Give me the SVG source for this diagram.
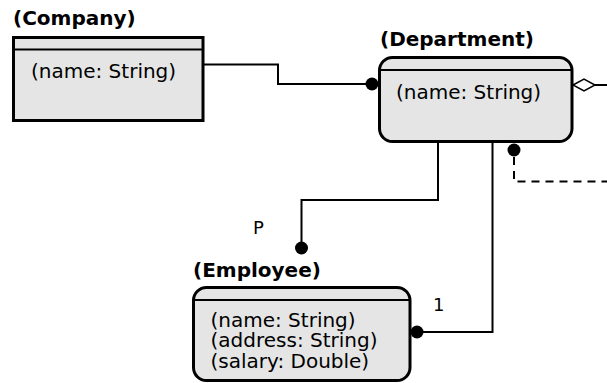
<svg xmlns="http://www.w3.org/2000/svg" width="607" height="383" viewBox="0 0 607 383">
  <style>
    .box { fill: #e5e5e5; stroke: #000; stroke-width: 3; }
    .sep { stroke: #000; stroke-width: 2; }
    .title { font-family: "DejaVu Sans", sans-serif; font-weight: bold; font-size: 20px; fill: #000; }
    .attr { font-family: "DejaVu Sans", sans-serif; font-size: 20px; fill: #000; }
    .lbl { font-family: "DejaVu Sans", sans-serif; font-size: 18px; fill: #000; }
    .wire { fill: none; stroke: #000; stroke-width: 2; }
    .dash { fill: none; stroke: #000; stroke-width: 2; stroke-dasharray: 8 6; }
    .dot { fill: #000; }
    .diamond { fill: #fff; stroke: #000; stroke-width: 1.5; }
  </style>

  <g id="connectors">
    <!-- Company to Department -->
    <path class="wire" d="M203,64.5 H278 V84 H370"/>
    <circle class="dot" cx="372" cy="84" r="6.5"/>
    <!-- aggregation leaving Department to the right -->
    <path class="wire" d="M595,85 H607"/>
    <polygon class="diamond" points="573,85 584,79 595,85 584,91"/>
    <!-- Department to Employee (P) -->
    <path class="wire" d="M438,143 V200 H301.5 V246"/>
    <circle class="dot" cx="301.5" cy="248" r="6.5"/>
    <!-- Department to Employee (1) -->
    <path class="wire" d="M492.5,143 V332 H419"/>
    <circle class="dot" cx="417" cy="332" r="6.5"/>
    <!-- dashed dependency -->
    <circle class="dot" cx="514" cy="150" r="6.5"/>
    <path class="dash" d="M514,157 V181.5 H607"/>
    <text class="lbl" x="253" y="234">P</text>
    <text class="lbl" x="433" y="311">1</text>
  </g>

  <g id="company">
    <text class="title" x="13" y="25">(Company)</text>
    <rect class="box" x="13.5" y="37.5" width="189.5" height="83"/>
    <line class="sep" x1="13.5" y1="49.5" x2="203" y2="49.5"/>
    <text class="attr" x="31" y="78">(name: String)</text>
  </g>

  <g id="department">
    <text class="title" x="380" y="46">(Department)</text>
    <rect class="box" x="379.5" y="57.5" width="192.5" height="84" rx="13"/>
    <line class="sep" x1="379.5" y1="70" x2="572" y2="70"/>
    <text class="attr" x="396" y="99">(name: String)</text>
  </g>

  <g id="employee">
    <text class="title" x="193" y="277">(Employee)</text>
    <rect class="box" x="193.5" y="287.5" width="216.5" height="93" rx="13"/>
    <line class="sep" x1="193.5" y1="300" x2="410" y2="300"/>
    <text class="attr" x="210.5" y="326.5">(name: String)</text>
    <text class="attr" x="210.5" y="347.3">(address: String)</text>
    <text class="attr" x="210.5" y="368">(salary: Double)</text>
  </g>
</svg>
